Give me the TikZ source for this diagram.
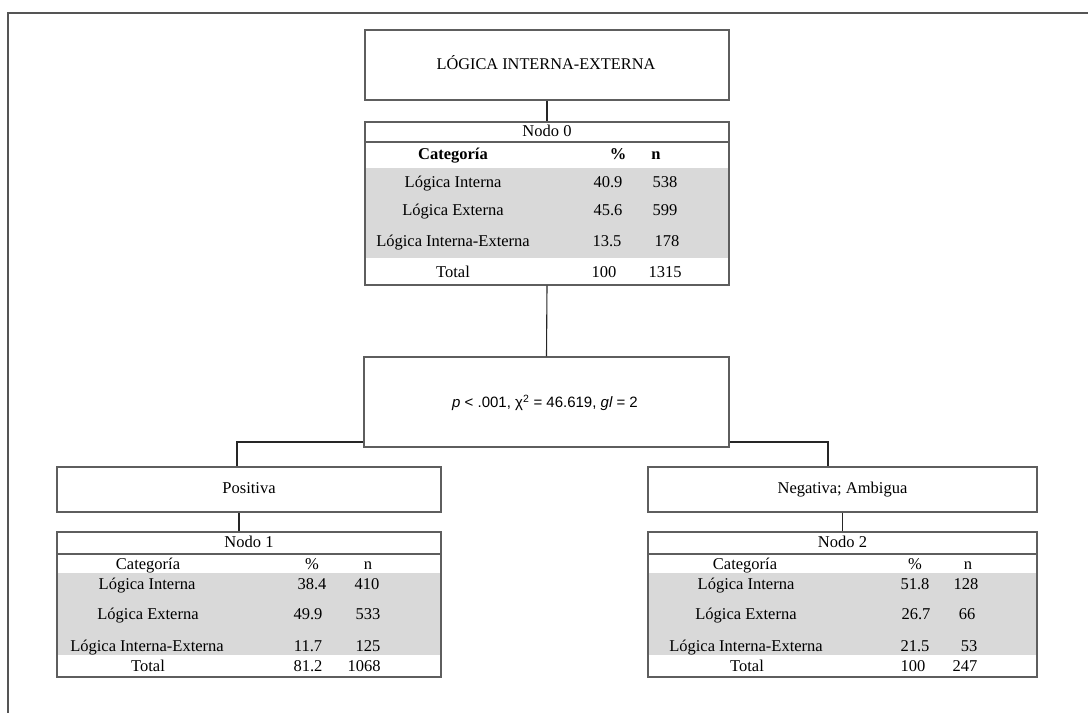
\documentclass[tikz,border=0pt]{standalone}
\usepackage{xcolor}
\usepackage{fontspec}
\setmainfont{Liberation Serif}
\newfontfamily\statfont{Liberation Sans}
\definecolor{boxgray}{HTML}{5E5E5E}
\definecolor{bandgray}{HTML}{D9D9D9}
\definecolor{framegray}{HTML}{555555}
\begin{document}
\begin{tikzpicture}[x=1pt,y=-1pt,
  box/.style={draw=boxgray, line width=1.4pt, fill=white, inner sep=0pt},
  tframe/.style={draw=boxgray, line width=1.4pt, inner sep=0pt},
  conn/.style={draw=black!85, line width=1.1pt},
  rule/.style={draw=boxgray, line width=1.2pt},
  tx/.style={inner sep=0pt, anchor=center, text height=11.5pt, text depth=3.5pt,
    font=\fontsize{16.5}{18}\selectfont},
  txb/.style={tx, font=\fontsize{16.5}{18}\selectfont\bfseries}
]
\useasboundingbox (0,0) rectangle (1088,713);
% outer frame
\draw[framegray, line width=1.5pt] (1088,13) -- (8,13) -- (8,713);

% root
\node[box, minimum width=364pt, minimum height=70pt] (root) at (547,65) {};
\node[tx, font=\fontsize{16.3}{18}\selectfont] (roottxt) at (546,65) {LÓGICA INTERNA-EXTERNA};

% ---------- Nodo 0 ----------
\fill[bandgray] (365,168) rectangle (729,258);
\node[tframe, minimum width=364pt, minimum height=163pt] (t0) at (547,203.5) {};
\draw[rule] (365,142) -- (729,142);
\node[tx] (n0t) at (547,132) {Nodo 0};
\node[txb] (n0h1) at (453,155) {Categoría};
\node[txb] (n0h2) at (618,155) {\%};
\node[txb] (n0h3) at (656,155) {n};
\node[tx] (n0a1) at (453,183) {Lógica Interna};
\node[tx] (n0a2) at (608,183) {40.9};
\node[tx] (n0a3) at (665,183) {538};
\node[tx] (n0b1) at (453,211) {Lógica Externa};
\node[tx] (n0b2) at (608,211) {45.6};
\node[tx] (n0b3) at (665,211) {599};
\node[tx] (n0c1) at (453,242) {Lógica Interna-Externa};
\node[tx] (n0c2) at (607,242) {13.5};
\node[tx] (n0c3) at (667,242) {178};
\node[tx] (n0d1) at (453,273) {Total};
\node[tx] (n0d2) at (604,273) {100};
\node[tx] (n0d3) at (665,273) {1315};

% connectors top
\draw[conn] (root.south) -- (t0.north);

% split lines
\coordinate (sl) at (237,442);
\coordinate (sr) at (828,442);
\coordinate (pl) at (237,467);
\coordinate (pr) at (828,467);
\draw[conn] (pl) -- (sl) -- (sr) -- (pr);

% stats box
\node[box, minimum width=365pt, minimum height=90pt] (stats) at (546.5,402) {};
\node[inner sep=0pt, font=\statfont\fontsize{15}{17}\selectfont] (statstxt) at (545,403)
  {\itshape p\upshape{} < .001, χ\textsuperscript{2} = 46.619, \itshape gl\upshape{} = 2};
\draw[conn] (t0.south) -- (stats.north);

% branch boxes
\node[box, minimum width=384pt, minimum height=45pt] (pos) at (249,489.5) {};
\node[tx] (postxt) at (249,489) {Positiva};
\node[box, minimum width=389pt, minimum height=45pt] (neg) at (842.5,489.5) {};
\node[tx] (negtxt) at (842.5,489) {Negativa; Ambigua};

% ---------- Nodo 1 ----------
\fill[bandgray] (57,573) rectangle (441,655);
\node[tframe, minimum width=384pt, minimum height=145pt] (t1) at (249,604.5) {};
\draw[rule] (57,554) -- (441,554);
\node[tx] (n1t) at (249,543) {Nodo 1};
\node[tx] (n1h1) at (148,565) {Categoría};
\node[tx] (n1h2) at (312,565) {\%};
\node[tx] (n1h3) at (368,565) {n};
\node[tx] (n1a1) at (147,585) {Lógica Interna};
\node[tx] (n1a2) at (312,585) {38.4};
\node[tx] (n1a3) at (367,585) {410};
\node[tx] (n1b1) at (148,615) {Lógica Externa};
\node[tx] (n1b2) at (308,615) {49.9};
\node[tx] (n1b3) at (368,615) {533};
\node[tx] (n1c1) at (147,647) {Lógica Interna-Externa};
\node[tx] (n1c2) at (308,647) {11.7};
\node[tx] (n1c3) at (368,647) {125};
\node[tx] (n1d1) at (148,667) {Total};
\node[tx] (n1d2) at (308,667) {81.2};
\node[tx] (n1d3) at (364,667) {1068};

% ---------- Nodo 2 ----------
\fill[bandgray] (648,573) rectangle (1037,655);
\node[tframe, minimum width=389pt, minimum height=145pt] (t2) at (842.5,604.5) {};
\draw[rule] (648,554) -- (1037,554);
\node[tx] (n2t) at (842.5,543) {Nodo 2};
\node[tx] (n2h1) at (745,565) {Categoría};
\node[tx] (n2h2) at (915,565) {\%};
\node[tx] (n2h3) at (968,565) {n};
\node[tx] (n2a1) at (746,585) {Lógica Interna};
\node[tx] (n2a2) at (915,585) {51.8};
\node[tx] (n2a3) at (966,585) {128};
\node[tx] (n2b1) at (746,615) {Lógica Externa};
\node[tx] (n2b2) at (916,615) {26.7};
\node[tx] (n2b3) at (967,615) {66};
\node[tx] (n2c1) at (746,647) {Lógica Interna-Externa};
\node[tx] (n2c2) at (915,647) {21.5};
\node[tx] (n2c3) at (969,647) {53};
\node[tx] (n2d1) at (747,667) {Total};
\node[tx] (n2d2) at (913,667) {100};
\node[tx] (n2d3) at (965,667) {247};

% branch-to-table connectors
\coordinate (c1) at (239,0);
\draw[conn] (pos.south -| c1) -- (t1.north -| c1);
\draw[conn] (neg.south) -- (t2.north);
\end{tikzpicture}
\end{document}
